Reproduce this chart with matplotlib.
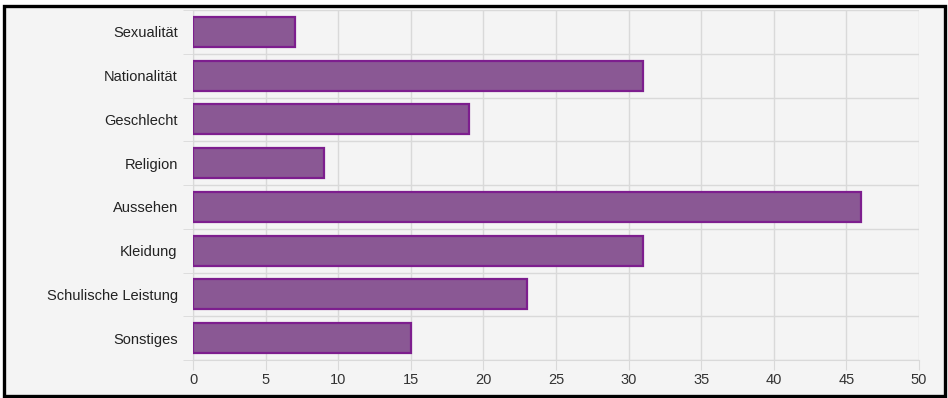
import numpy as np
import matplotlib.pyplot as plt
from matplotlib.patches import Rectangle

categories = ['Sexualität', 'Nationalität', 'Geschlecht', 'Religion',
              'Aussehen', 'Kleidung', 'Schulische Leistung', 'Sonstiges']
values = [7, 31, 19, 9, 46, 31, 23, 15]
xticks = [0, 5, 10, 15, 20, 25, 30, 35, 40, 45, 50]

plt.rcParams['font.family'] = ['Liberation Sans', 'DejaVu Sans']

W, H = 948, 398
fig = plt.figure(figsize=(W / 100, H / 100), dpi=100, facecolor='white')

# light panel with black frame round it (behind the axes)
fig.patches.append(Rectangle((3.5 / W, 1 - 396 / H), 941 / W, 390 / H,
                             transform=fig.transFigure, facecolor='#f4f4f4',
                             edgecolor='black', linewidth=2.4, zorder=-10))

ax = fig.add_axes([193 / W, 1 - 360 / H, 726 / W, 350 / H])
ax.set_facecolor('#f4f4f4')

y = np.arange(len(categories))
ax.barh(y, values, height=0.69, color='#8a5894', edgecolor='#7d1e8e',
        linewidth=1.6, zorder=3)

ax.set_xlim(0, 50)
ax.set_ylim(len(categories) - 0.5, -0.5)
ax.set_xticks(xticks)
ax.set_yticks(y)
ax.set_yticklabels(categories)
ax.set_yticks(np.arange(len(categories) + 1) - 0.5, minor=True)

grid = '#d9d9d9'
ax.grid(axis='x', color=grid, linewidth=1, zorder=0)
ax.grid(axis='y', which='minor', color=grid, linewidth=1, zorder=0)
ax.tick_params(axis='x', length=7, color=grid, labelsize=10.5,
               labelcolor='#333333', pad=2)
ax.tick_params(axis='y', which='major', length=0, labelsize=10.5,
               labelcolor='#222222', pad=11)
ax.tick_params(axis='y', which='minor', length=7, color=grid)

for side in ['top', 'right']:
    ax.spines[side].set_visible(False)
ax.spines['left'].set_color(grid)
ax.spines['bottom'].set_color(grid)

fig.savefig('out.png', dpi=100, facecolor='white')
